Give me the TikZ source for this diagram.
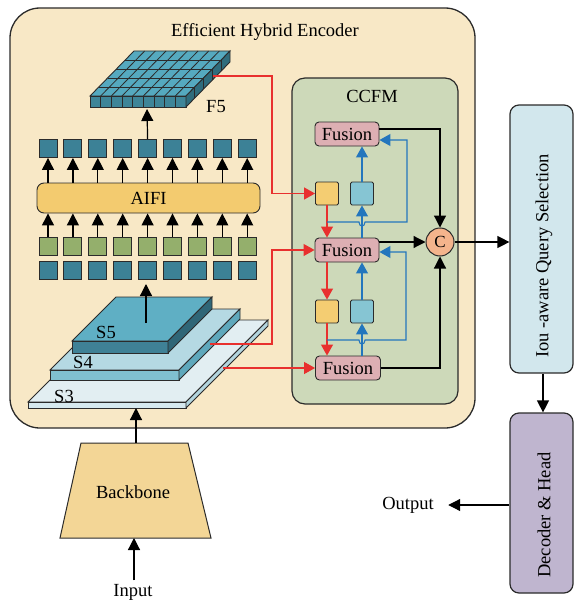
\documentclass[tikz,border=0pt]{standalone}
\usepackage{fontspec}
\setmainfont{Liberation Serif}
\usetikzlibrary{arrows.meta}
\definecolor{edge}{HTML}{2B2B2B}
\definecolor{encfill}{HTML}{F8E8C6}
\definecolor{ccfmfill}{HTML}{CDD9B9}
\definecolor{fusfill}{HTML}{DDAFB3}
\definecolor{yelsq}{HTML}{F4CD72}
\definecolor{blusq}{HTML}{86C5D3}
\definecolor{cfill}{HTML}{F4B48C}
\definecolor{ioufill}{HTML}{D2E7ED}
\definecolor{decfill}{HTML}{BFB5CF}
\definecolor{bbfill}{HTML}{F3D696}
\definecolor{aififill}{HTML}{F3CB6F}
\definecolor{tealsq}{HTML}{3C8196}
\definecolor{greensq}{HTML}{94AF6C}
\definecolor{linered}{HTML}{E8302E}
\definecolor{lineblue}{HTML}{2376BD}
\definecolor{gridtop}{HTML}{55A9BF}
\definecolor{gridfront}{HTML}{3E8598}
\definecolor{gridside}{HTML}{2F6C7C}
\definecolor{sthreetop}{HTML}{E2EEF2}
\definecolor{sthreefront}{HTML}{D6E9EF}
\definecolor{sthreeside}{HTML}{B3D5DE}
\definecolor{sfourtop}{HTML}{B5D9E3}
\definecolor{sfourfront}{HTML}{80C0D0}
\definecolor{sfourside}{HTML}{5FA8BC}
\definecolor{sfivetop}{HTML}{5FAFC4}
\definecolor{sfivefront}{HTML}{3F8196}
\definecolor{sfiveside}{HTML}{2F6677}
\begin{document}
\begin{tikzpicture}[x=1pt,y=-1pt,
  font=\fontsize{18.5}{21}\selectfont,
  sq/.style={draw=edge, line width=0.9pt, minimum size=18pt, inner sep=0},
  smallsq/.style={draw=edge, line width=0.9pt, minimum size=23pt, inner sep=0, rounded corners=1.5pt},
  fusion/.style={draw=edge, line width=0.9pt, fill=fusfill, rounded corners=4pt,
    minimum width=64pt, minimum height=24pt, inner sep=0},
  arr/.style={draw=black, line width=1.2pt, -{Triangle[length=12pt,width=12pt]}},
  redarr/.style={draw=linered, line width=1.1pt, -{Triangle[length=11pt,width=12pt]}},
  bluearr/.style={draw=lineblue, line width=1.1pt, -{Triangle[length=11pt,width=12pt]}},
  slab/.style={draw=edge, line width=0.9pt}]
\useasboundingbox (0,0) rectangle (574,602);

% ---------- encoder frame ----------
\node[draw=edge, line width=1.3pt, fill=encfill, rounded corners=30pt,
  minimum width=465pt, minimum height=420pt, inner sep=0] (enc) at (242.5,218) {};
\node (enctitle) at (265,32) {Efficient Hybrid Encoder};

% ---------- F5 feature grid ----------
\filldraw[slab, fill=gridtop] (90,96) -- (186,96) -- (230,51) -- (134,51) -- cycle;
\foreach \i in {1,...,8}
  \draw[edge, line width=0.8pt] (90+\i*96/9,96) -- (134+\i*96/9,51);
\foreach \j in {1,...,4}
  \draw[edge, line width=0.8pt] (90+44*\j/5,96-45*\j/5) -- (186+44*\j/5,96-45*\j/5);
\filldraw[slab, fill=gridfront] (90,96) rectangle (186,107);
\foreach \i in {1,...,8}
  \draw[edge, line width=0.8pt] (90+\i*96/9,96) -- (90+\i*96/9,107);
\filldraw[slab, fill=gridside] (186,96) -- (230,51) -- (230,62) -- (186,107) -- cycle;
\foreach \j in {1,...,4}
  \draw[edge, line width=0.8pt] (186+44*\j/5,96-45*\j/5) -- (186+44*\j/5,107-45*\j/5);
\node (f5lab) at (216,107) {F5};
\coordinate (f5b) at (147,109);
\coordinate (f5r) at (213,76);

% ---------- AIFI and token rows ----------
\node[draw=edge, line width=0.9pt, fill=aififill, rounded corners=7pt,
  minimum width=223pt, minimum height=30pt, inner sep=0] (aifi) at (148.5,198) {AIFI};
\foreach \i in {0,...,8} {
  \node[sq, fill=tealsq] (t\i) at (48+24.9*\i,148.5) {};
  \node[sq, fill=greensq] (g\i) at (48+24.9*\i,246) {};
  \node[sq, fill=tealsq] (b\i) at (48+24.9*\i,270) {};
  \draw[arr] (aifi.north -| t\i.south) -- (t\i.south);
  \draw[arr] (g\i.north) -- (g\i.north |- aifi.south);
}
\draw[arr] (t4.north) -- (f5b);

% ---------- backbone feature stack ----------
% S3
\filldraw[slab, fill=sthreetop] (28,402) -- (186,402) -- (268,320) -- (110,320) -- cycle;
\filldraw[slab, fill=sthreefront] (28,402) rectangle (186,408);
\filldraw[slab, fill=sthreeside] (186,402) -- (268,320) -- (268,326) -- (186,408) -- cycle;
% S4
\filldraw[slab, fill=sfourtop] (50,370) -- (179,370) -- (240,309) -- (111,309) -- cycle;
\filldraw[slab, fill=sfourfront] (50,370) rectangle (179,380);
\filldraw[slab, fill=sfourside] (179,370) -- (240,309) -- (240,319) -- (179,380) -- cycle;
% S5
\filldraw[slab, fill=sfivetop] (72,341) -- (168,341) -- (212,297) -- (116,297) -- cycle;
\filldraw[slab, fill=sfivefront] (72,341) rectangle (168,353);
\filldraw[slab, fill=sfiveside] (168,341) -- (212,297) -- (212,309) -- (168,353) -- cycle;
\node (s5lab) at (106,332) {S5};
\node (s4lab) at (83,362) {S4};
\node (s3lab) at (64,396) {S3};
\coordinate (s5t) at (146,323);
\coordinate (s4r) at (210,344);
\coordinate (s3r) at (223,368);
\coordinate (s3b) at (136,408);
\draw[arr] (s5t) -- (s5t |- 0,284);

% ---------- CCFM ----------
\node[draw=edge, line width=1.2pt, fill=ccfmfill, rounded corners=13pt,
  minimum width=166pt, minimum height=326pt, inner sep=0] (ccfm) at (375,241) {};
\node (ccfmlab) at (372,96) {CCFM};
\node[fusion] (fu1) at (347,134) {Fusion};
\node[fusion] (fu2) at (347,250) {Fusion};
\node[fusion, minimum width=65pt] (fu3) at (348,368) {Fusion};
\node[smallsq, fill=yelsq] (y1) at (327,193.5) {};
\node[smallsq, fill=blusq] (q1) at (362,193.5) {};
\node[smallsq, fill=yelsq] (y2) at (327,311.5) {};
\node[smallsq, fill=blusq] (q2) at (362,311.5) {};
\node[draw=edge, line width=1pt, circle, fill=cfill, minimum size=28pt, inner sep=0,
  font=\fontsize{17}{19}\selectfont] (C) at (440,242) {C};

% red top-down path
\draw[redarr] (f5r) -- (272,76) |- (y1.west);
\draw[redarr] (s4r) -- (272,344) |- (fu2.west);
\draw[redarr] (s3r) -- (fu3.west);
\draw[redarr] (y1.south) -- (y1.south |- fu2.north);
\draw[redarr] (fu2.south -| y1.south) -- (y2.north);
\draw[redarr] (y2.south) -- (y2.south |- fu3.north);

% blue bottom-up path
\draw[bluearr] (q1.north) -- (q1.north |- fu1.south);
\draw[bluearr] (fu2.north -| q1.south) -- (q1.south);
\draw[bluearr] (q2.north) -- (q2.north |- fu2.south);
\draw[bluearr] (fu3.north -| q2.south) -- (q2.south);
\coordinate (ja) at (327,222);
\coordinate (ka) at (407,140);
\coordinate (jb) at (327,340);
\coordinate (kb) at (406,252);
\draw[bluearr] (ja) -- (359,222) .. controls (359,227.5) and (365,227.5) .. (365,222)
  -- (407,222) -- (ka) -- (ka -| fu1.east);
\draw[bluearr] (jb) -- (359,340) .. controls (359,345.5) and (365,345.5) .. (365,340)
  -- (406,340) -- (kb) -- (kb -| fu2.east);

% concatenation
\draw[arr] ([yshift=5pt]fu1.east) -| (C.north);
\draw[arr] (fu2.east |- C.west) -- (C.west);
\draw[arr] (fu3.east) -| (C.south);

% ---------- decoder side ----------
\node[draw=edge, line width=1.2pt, fill=ioufill, rounded corners=9pt,
  minimum width=63pt, minimum height=268pt, inner sep=0] (iou) at (541.5,239) {};
\node[rotate=90] (ioulab) at (544,256) {Iou -aware Query Selection};
\node[draw=edge, line width=1.2pt, fill=decfill, rounded corners=9pt,
  minimum width=63pt, minimum height=180pt, inner sep=0] (dec) at (541.5,503) {};
\node[rotate=90] (declab) at (544,515) {Decoder \& Head};
\draw[arr] (C.east) -- (C.east -| iou.west);
\draw[arr] ([xshift=1.5pt]iou.south) -- ([xshift=1.5pt]dec.north);
\node (outlab) at (408,505) {Output};
\draw[arr] (dec.west |- outlab.east) -- ([xshift=11pt]outlab.east);

% ---------- backbone ----------
\filldraw[draw=edge, line width=1pt, fill=bbfill] (81,443) -- (188,443) -- (211,538) -- (60,538) -- cycle;
\node (bblab) at (133,492) {Backbone};
\coordinate (bbtop) at (136,443);
\coordinate (bbbot) at (134,538);
\draw[arr] (bbtop) -- (s3b);
\node (inlab) at (133,592) {Input};
\draw[arr] (inlab.north -| bbbot) -- (bbbot);
\end{tikzpicture}
\end{document}
